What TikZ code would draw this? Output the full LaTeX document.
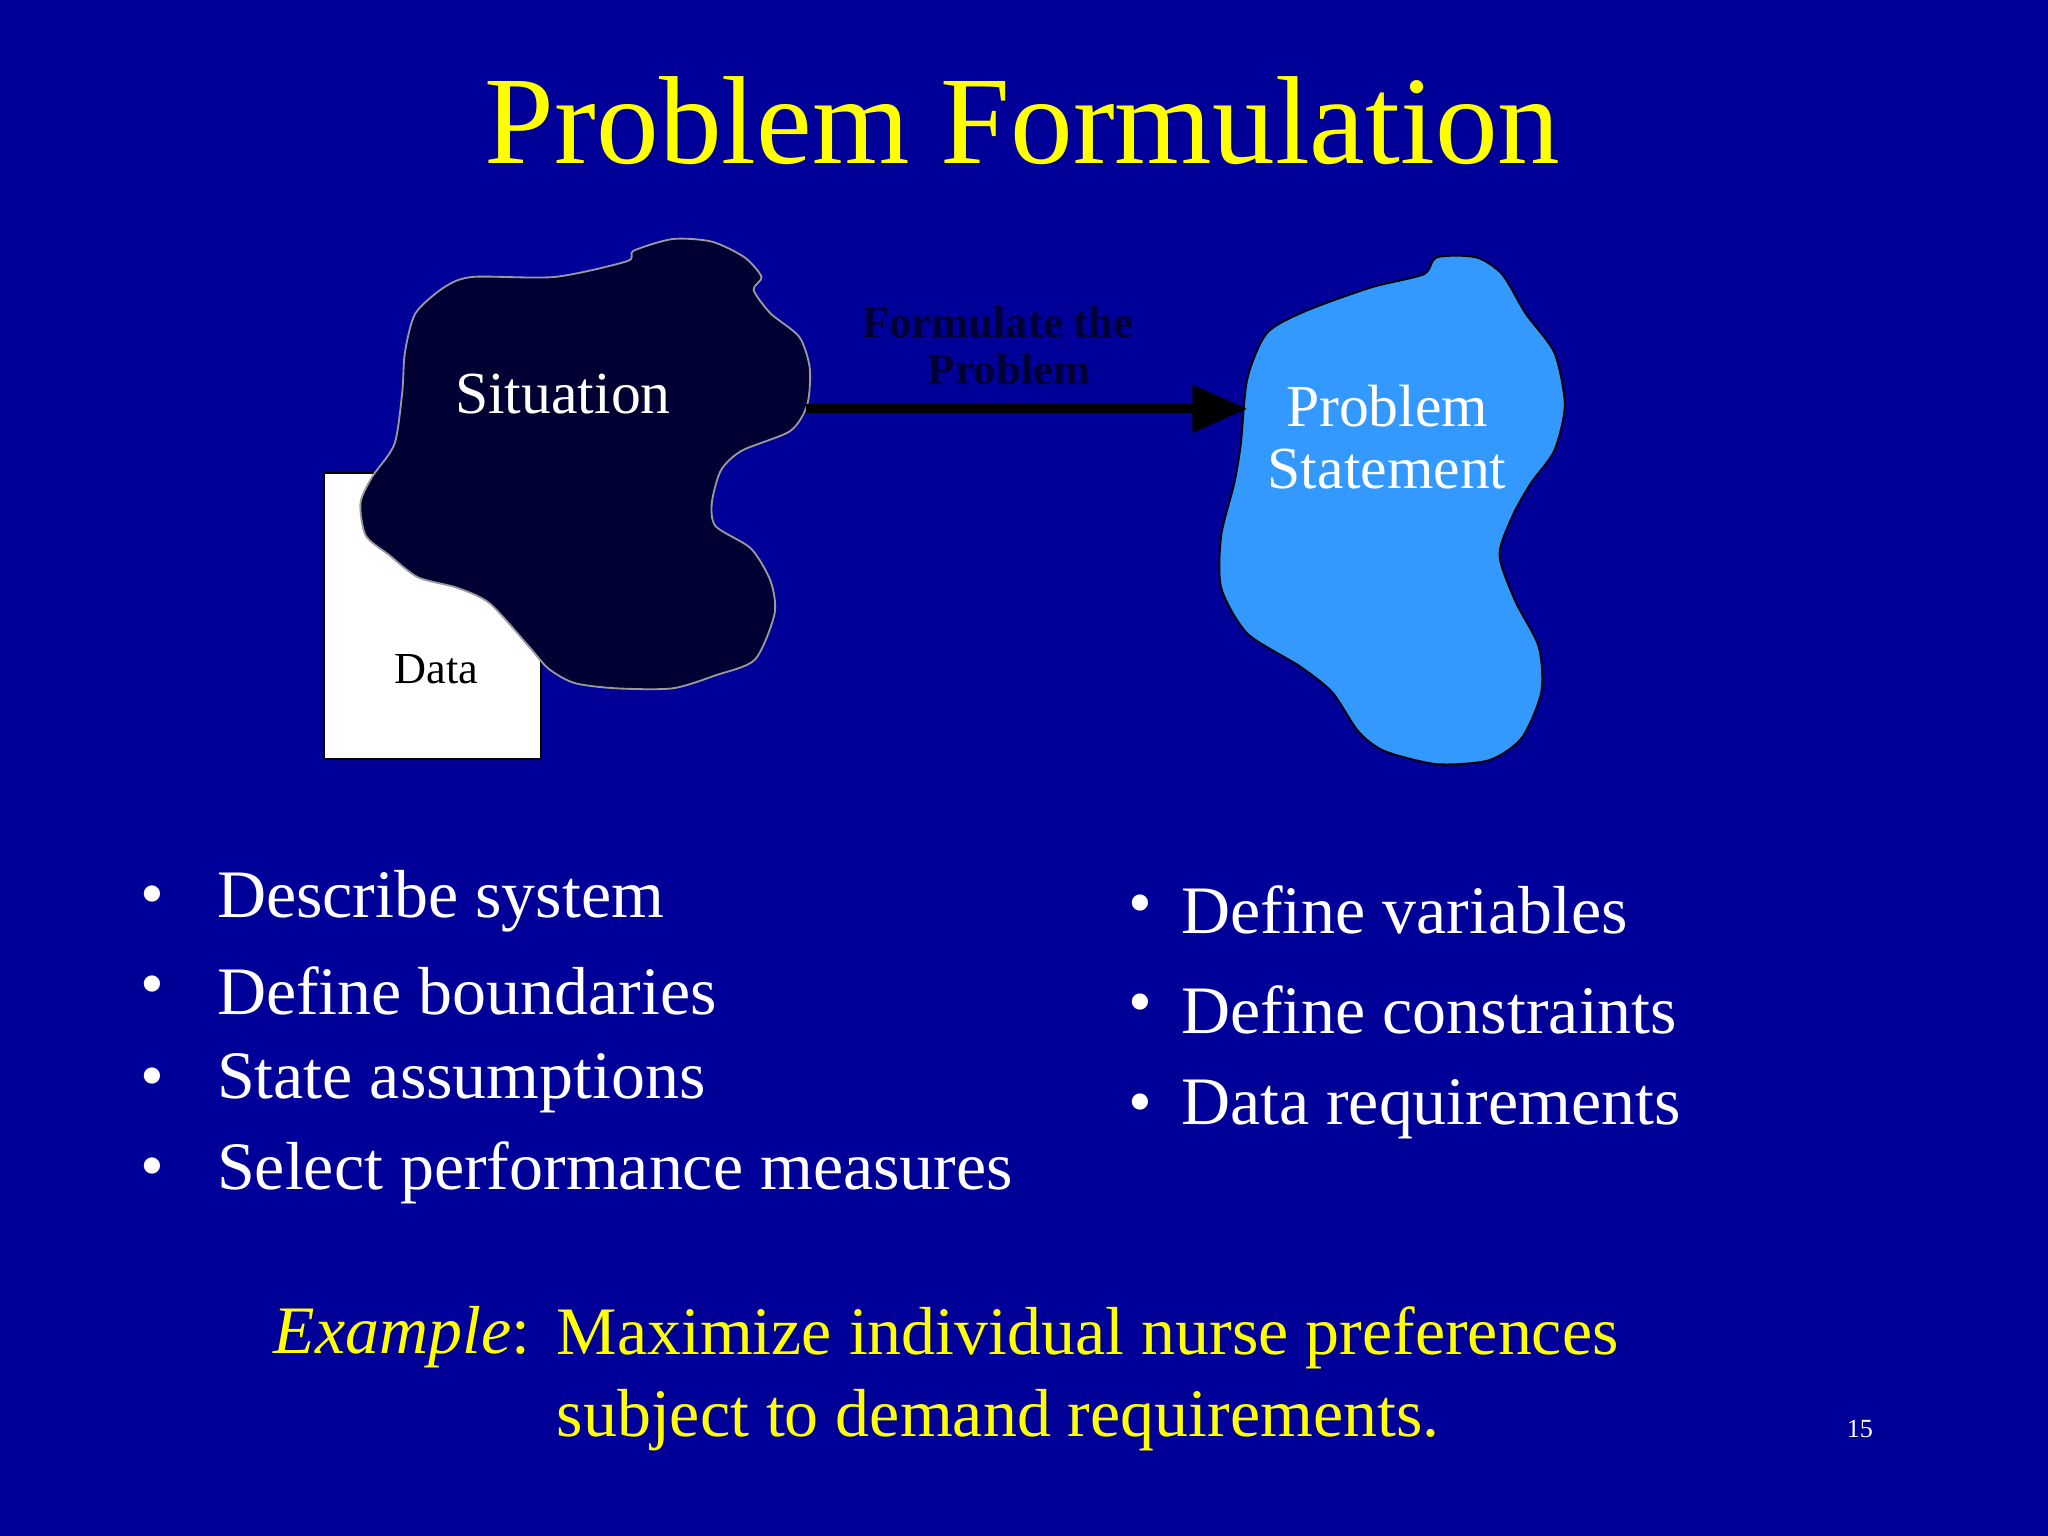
\documentclass[tikz,border=0pt]{standalone}
\usepackage{fontspec}
\setmainfont{Liberation Serif}
\usetikzlibrary{arrows.meta}
\definecolor{bg}{HTML}{000099}
\definecolor{sit}{HTML}{000033}
\definecolor{ps}{HTML}{3399FF}
\definecolor{yel}{HTML}{FFFF00}
\tikzset{
 bul/.style={anchor=west,text=white,font=\fontsize{29.6}{34}\selectfont},
 dot/.style={text=white,font=\fontsize{29.6}{34}\selectfont},
 ex/.style={anchor=west,text=yel,font=\fontsize{29.6}{34}\selectfont}
}
\begin{document}
\begin{tikzpicture}[x={(0.02cm,0)},y={(0,-0.02cm)}]
\fill[bg] (0,0) rectangle (1568,1176);
\useasboundingbox (0,0) rectangle (1568,1176);
\node[text=yel,font=\fontsize{54.6}{60}\selectfont] (title) at (783,92) {Problem Formulation};
% data
\draw[fill=white,draw=black,line width=0.8pt] (248,362) rectangle (414,581);
\node[font=\fontsize{19.3}{22}\selectfont] (data) at (334,512) {Data};
% situation
\draw[fill=sit,draw=gray!80,line width=0.8pt] plot[smooth cycle,tension=0.45] coordinates{
(485,192)(515,183)(545,185)(570,197)(583,212)(577,222)(590,240)(612,258)(620,282)(618,310)(605,330)(568,345)(552,360)(545,385)(548,403)(575,420)(590,445)(593,470)(578,505)(548,517)(515,527)(472,527)(440,523)(420,512)(405,495)(375,462)(350,450)(320,442)(298,425)(280,410)(276,385)(285,365)(302,340)(308,300)(310,270)(318,240)(340,220)(362,212)(425,212)(480,200)};
\node[text=white,font=\fontsize{26}{30}\selectfont] (sit) at (431,302) {Situation};
\coordinate (sitR) at (617,313);
% problem statement
\draw[fill=ps,draw=black,line width=0.8pt] plot[smooth cycle,tension=0.45] coordinates{
(1100,197)(1130,197)(1150,210)(1168,240)(1190,270)(1198,310)(1190,345)(1172,370)(1158,395)(1148,425)(1160,460)(1178,495)(1180,530)(1165,565)(1140,582)(1100,585)(1060,575)(1040,560)(1020,530)(995,510)(955,485)(935,450)(935,410)(945,370)(950,340)(955,290)(970,255)(1000,238)(1050,220)(1090,210)};
\node[text=white,align=center,font=\fontsize{26}{27}\selectfont] (pst) at (1062,335) {Problem\\Statement};
\coordinate (psL) at (955,313);
\draw[line width=4pt,-{Triangle[length=24pt,width=20pt]}] (sitR) -- (psL);
\node[text=sit,align=center,font=\bfseries\fontsize{19.4}{20.5}\selectfont] (form) at (764,265) {Formulate the\\\ \ Problem};
% bullets
\foreach \n/\y/\t in {a/690/Describe system,b/759/Define boundaries,c/829/State assumptions,d/898/Select performance measures}{
 \node[dot] (bd\n) at (117,\y) {•};
 \node[bul] (bt\n) at (160,\y) {\t};}
\foreach \n/\y/\t in {e/697/Define variables,f/773/Define constraints,g/849/Data requirements}{
 \node[dot] (bd\n) at (873,\y) {•};
 \node[bul] (bt\n) at (898,\y) {\t};}
\node[ex,anchor=east] (exl) at (412,1024) {\textit{Example}:};
\node[ex] (ex1) at (420,1024) {Maximize individual nurse preferences};
\node[ex] (ex2) at (420,1087) {subject to demand requirements.};
\node[text=white,font=\fontsize{11.4}{13}\selectfont] (pg) at (1424,1094) {15};
\end{tikzpicture}
\end{document}
